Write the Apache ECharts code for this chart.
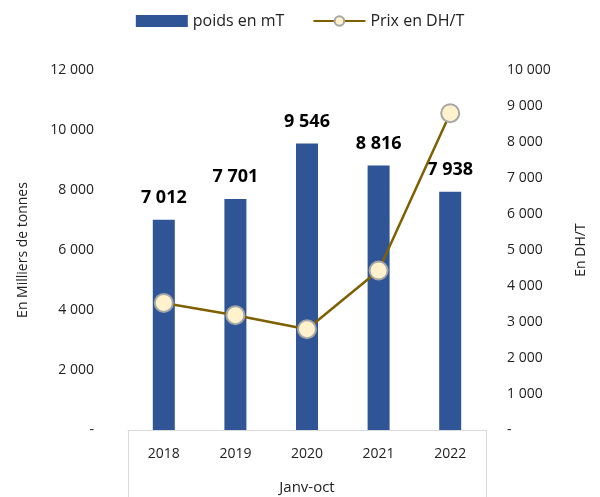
<!DOCTYPE html>
<html>
<head>
<meta charset="utf-8">
<script src="https://cdn.jsdelivr.net/npm/echarts@6/dist/echarts.min.js"></script>
<style>
  html, body { margin: 0; padding: 0; background: #fff; }
  #chart { width: 600px; height: 497px; }
</style>
</head>
<body>
<div id="chart"></div>
<script>
// données
var annees = ['2018', '2019', '2020', '2021', '2022'];
var poids = [7012, 7701, 9546, 8816, 7938];      // milliers de tonnes
var prix = [3530, 3190, 2800, 4430, 8800];       // DH/T
var periode = ['Janv-oct'];

var police = '"Open Sans", "Noto Sans", sans-serif';

function fmt(v) {
  if (v === 0) return '-';
  return String(Math.round(v)).replace(/\B(?=(\d{3})+(?!\d))/g, ' ');
}

var chart = echarts.init(document.getElementById('chart'));

chart.setOption({
  backgroundColor: '#fff',
  textStyle: { fontFamily: police },
  legend: {
    top: 8,
    left: 'center',
    itemWidth: 52,
    itemHeight: 12,
    itemGap: 28,
    textStyle: { fontSize: 16, color: '#222', fontFamily: police },
    data: [
      { name: 'poids en mT', icon: 'rect' },
      { name: 'Prix en DH/T' }
    ]
  },
  grid: { left: 128, right: 114, top: 70, bottom: 67 },
  xAxis: [{
    type: 'category',
    data: annees,
    axisLine: { lineStyle: { color: '#d9d9d9', width: 1 } },
    axisTick: { show: false },
    axisLabel: { color: '#222', fontSize: 14, margin: 17 }
  }, {
    type: 'category',
    data: periode,
    position: 'bottom',
    axisLine: { show: false },
    axisTick: { show: true, length: 70, lineStyle: { color: '#d9d9d9' } },
    axisLabel: { color: '#222', fontSize: 15, margin: 50 }
  }],
  yAxis: [{
    type: 'value',
    min: 0, max: 12000, interval: 2000,
    name: 'En Milliers de tonnes',
    nameLocation: 'middle',
    nameGap: 98,
    nameTextStyle: { fontSize: 14, color: '#222' },
    splitLine: { show: false },
    axisLine: { show: false },
    axisTick: { show: false },
    axisLabel: { formatter: fmt, color: '#222', fontSize: 14, margin: 34 }
  }, {
    type: 'value',
    min: 0, max: 10000, interval: 1000,
    name: 'En DH/T',
    nameLocation: 'middle',
    nameGap: 88,
    nameRotate: 90,
    nameTextStyle: { fontSize: 14, color: '#222' },
    splitLine: { show: false },
    axisLine: { show: false },
    axisTick: { show: false },
    axisLabel: { formatter: fmt, color: '#222', fontSize: 14, margin: 21 }
  }],
  series: [{
    name: 'poids en mT',
    type: 'bar',
    data: poids,
    barWidth: 22,
    itemStyle: { color: '#2f5597' },
    label: {
      show: true,
      position: 'top',
      distance: 13,
      formatter: function (p) { return fmt(p.value); },
      fontSize: 18,
      fontWeight: 'bold',
      color: '#000'
    }
  }, {
    name: 'Prix en DH/T',
    type: 'line',
    yAxisIndex: 1,
    data: prix,
    symbol: 'circle',
    symbolSize: 18,
    lineStyle: { color: '#7f6000', width: 2.5 },
    itemStyle: { color: '#fff2cc', borderColor: '#a5a5a5', borderWidth: 2 },
    z: 5
  }]
});
</script>
</body>
</html>
